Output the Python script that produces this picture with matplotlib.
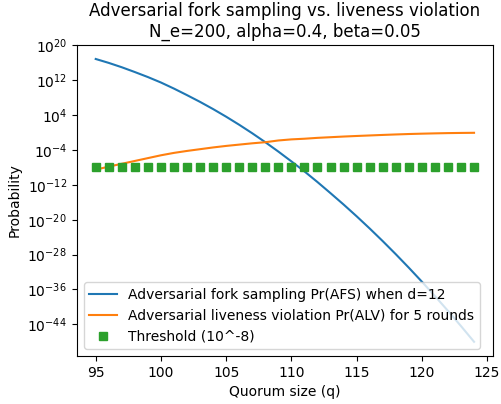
import matplotlib
matplotlib.use("Agg")
import matplotlib.pyplot as plt
import numpy as np
from matplotlib.ticker import NullLocator

# Quorum sizes on the x axis
quorum = list(range(95, 125))

# log10 of Pr(AFS) for d=12
afs_log10 = [16.9, 16.0, 15.0, 13.9, 12.75, 11.5, 10.1, 8.6, 7.05, 5.4,
             3.65, 1.8, -0.15, -2.2, -4.35, -6.6, -8.9, -11.35, -13.9, -16.5,
             -19.2, -22.0, -24.9, -27.9, -31.0, -34.2, -37.5, -40.9, -44.4, -48.0]

# log10 of Pr(ALV) over 5 rounds
alv_log10 = [-8.5, -7.8, -7.15, -6.5, -5.85, -5.2, -4.65, -4.2, -3.8, -3.4,
             -3.05, -2.75, -2.45, -2.2, -1.8, -1.55, -1.4, -1.2, -1.05, -0.9,
             -0.77, -0.65, -0.53, -0.42, -0.32, -0.24, -0.17, -0.11, -0.07, -0.04]

threshold = 1e-8

afs = 10.0 ** np.array(afs_log10)
alv = 10.0 ** np.array(alv_log10)

fig = plt.figure(figsize=(5.02, 4.04), dpi=100)
ax = fig.add_axes([0.153, 0.119, 0.829, 0.770])

ax.plot(quorum, afs, color="#1f77b4", linewidth=1.5,
        label="Adversarial fork sampling Pr(AFS) when d=12")
ax.plot(quorum, alv, color="#ff7f0e", linewidth=1.5,
        label="Adversarial liveness violation Pr(ALV) for 5 rounds")
ax.plot(quorum, [threshold] * len(quorum), "s", color="#2ca02c",
        markersize=5.3, label="Threshold (10^-8)")

ax.set_yscale("log")
ax.set_yticks([10.0 ** e for e in range(20, -45, -8)])
ax.yaxis.set_minor_locator(NullLocator())
ax.set_xticks([95, 100, 105, 110, 115, 120, 125])

ax.set_xlabel("Quorum size (q)")
ax.set_ylabel("Probability")
ax.set_title("Adversarial fork sampling vs. liveness violation\n"
             "N_e=200, alpha=0.4, beta=0.05")
ax.legend(loc="lower left")

fig.savefig("out.png", dpi=100)
